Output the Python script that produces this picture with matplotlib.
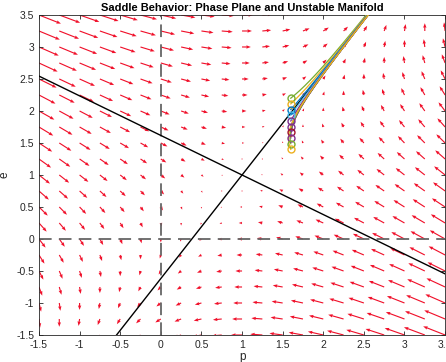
import numpy as np
import matplotlib
matplotlib.use("Agg")
import matplotlib.pyplot as plt

plt.rcParams['font.family'] = ['Liberation Sans', 'DejaVu Sans']

# Linear system around the saddle: d/dt [p, e] = A @ ([p, e] - saddle)
saddle = [1.0, 1.0]
A = [[-1.0, 1.0],
     [1.0, 0.0]]

# grid of the quiver
p_grid = np.arange(-1.5, 3.5001, 0.25)
e_grid = np.arange(-1.5, 3.5001, 0.25)

# starting points of trajectories
p_starts = [1.6] * 10
e_starts = [2.2, 2.111, 2.022, 1.933, 1.844, 1.756, 1.667, 1.578, 1.489, 1.4]
traj_colors = ['#77AC30', '#EDB120', '#0072BD', '#4DBEEE', '#7E2F8E',
               '#7E2F8E', '#A2142F', '#7E2F8E', '#77AC30', '#EDB120']

xticks = [-1.5, -1, -0.5, 0, 0.5, 1, 1.5, 2, 2.5, 3, 3.5]
yticks = [-1.5, -1, -0.5, 0, 0.5, 1, 1.5, 2, 2.5, 3, 3.5]
xtick_labels = ['-1.5', '-1', '-0.5', '0', '0.5', '1', '1.5', '2', '2.5', '3', '3.5']
ytick_labels = ['-1.5', '-1', '-0.5', '0', '0.5', '1', '1.5', '2', '2.5', '3', '3.5']

Am = np.array(A)
x0 = np.array(saddle)

fig = plt.figure(figsize=(4.46, 3.62), dpi=100)
ax = fig.add_axes([0.0874, 0.0746, 0.9106, 0.884])

P, E = np.meshgrid(p_grid, e_grid)
U = Am[0, 0] * (P - x0[0]) + Am[0, 1] * (E - x0[1])
V = Am[1, 0] * (P - x0[0]) + Am[1, 1] * (E - x0[1])
ax.quiver(P, E, U, V, color='#F0102A', angles='xy', scale_units='xy', scale=18.5,
          width=0.0028, headwidth=3.0, headlength=4, headaxislength=3.6, zorder=1)

# dashed axes lines
ax.axvline(0, color='#666666', ls=(0, (7, 4)), lw=1.3, zorder=2)
ax.axhline(0, color='#666666', ls=(0, (7, 4)), lw=1.3, zorder=2)

# eigenvector lines (manifolds)
w, vecs = np.linalg.eig(Am)
s = np.linspace(-10, 10, 2)
for k in range(2):
    vx, vy = vecs[:, k]
    ax.plot(x0[0] + s * vx, x0[1] + s * vy, color='black', lw=1.0, zorder=3)

# trajectories
Vinv = np.linalg.inv(vecs)
t = np.linspace(0, 4, 400)
for p0, e0, c in zip(p_starts, e_starts, traj_colors):
    d0 = np.array([p0, e0]) - x0
    coef = Vinv @ d0
    pts = np.array([x0 + vecs @ (coef * np.exp(w * ti)) for ti in t]).real
    ax.plot(pts[:, 0], pts[:, 1], color=c, lw=0.9, zorder=4)
    ax.plot([p0], [e0], 'o', mfc='none', mec=c, ms=5, mew=1.0, zorder=5)

ax.set_xlim(-1.5, 3.5)
ax.set_ylim(-1.5, 3.5)
ax.set_xticks(xticks)
ax.set_xticklabels(xtick_labels)
ax.set_yticks(yticks)
ax.set_yticklabels(ytick_labels)
ax.tick_params(direction='in', top=True, right=True, labelsize=7.5,
               colors='#262626', length=3, width=0.6)
for sp in ax.spines.values():
    sp.set_color('#262626')
    sp.set_linewidth(0.6)
ax.set_xlabel('p', fontsize=8.5, labelpad=1, color='#262626')
ax.set_ylabel('e', fontsize=8.5, labelpad=4, color='#262626')
ax.set_title('Saddle Behavior: Phase Plane and Unstable Manifold',
             fontsize=8, fontweight='bold', pad=3)

fig.savefig('out.png', dpi=100)
